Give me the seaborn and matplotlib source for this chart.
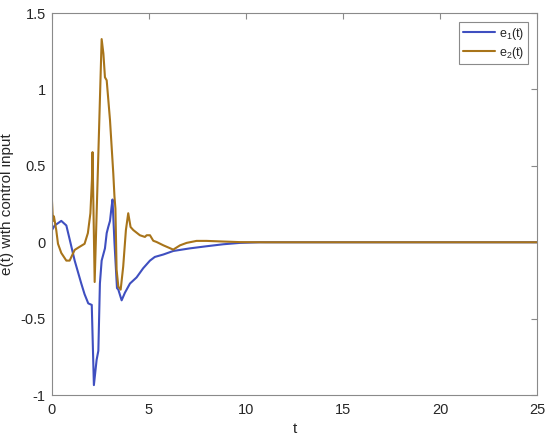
import matplotlib
matplotlib.use("Agg")
import matplotlib.pyplot as plt
import seaborn as sns
import pandas as pd

# e1(t) trace
t_e1 = [0.0, 0.14, 0.48, 0.74, 0.91, 1.17, 1.51, 1.68, 1.87, 2.05, 2.16, 2.30, 2.39,
        2.47, 2.56, 2.73, 2.82, 2.90, 2.99, 3.07, 3.12, 3.22, 3.35, 3.42, 3.59, 3.76,
        4.02, 4.36, 4.70, 5.05, 5.30, 5.74, 6.25, 7.10, 7.97, 8.83, 9.69, 10.7, 12.0, 25.0]
e1 = [0.08, 0.11, 0.14, 0.11, 0.02, -0.12, -0.27, -0.34, -0.40, -0.41, -0.935, -0.77, -0.71,
      -0.27, -0.12, -0.04, 0.06, 0.10, 0.14, 0.23, 0.28, 0.0, -0.30, -0.31, -0.38, -0.33,
      -0.27, -0.23, -0.17, -0.12, -0.096, -0.08, -0.057, -0.04, -0.026, -0.013, -0.004, 0.0, 0.0, 0.0]

# e2(t) trace
t_e2 = [0.0, 0.05, 0.10, 0.14, 0.22, 0.31, 0.48, 0.74, 0.91, 1.17, 1.42, 1.68, 1.85, 1.98,
        2.06, 2.09, 2.20, 2.56, 2.65, 2.73, 2.82, 2.99, 3.16, 3.22, 3.27, 3.33, 3.42, 3.54,
        3.67, 3.81, 3.93, 4.05, 4.19, 4.53, 4.79, 4.88, 5.05, 5.22, 5.39, 5.74, 6.25, 6.60,
        6.94, 7.45, 7.97, 8.80, 9.70, 11.0, 25.0]
e2 = [0.27, 0.14, 0.17, 0.14, 0.08, -0.01, -0.07, -0.12, -0.12, -0.05, -0.03, -0.01, 0.06, 0.19,
      0.41, 0.59, -0.26, 1.33, 1.235, 1.08, 1.06, 0.80, 0.45, 0.30, 0.22, -0.18, -0.29, -0.31,
      -0.16, 0.08, 0.19, 0.10, 0.08, 0.046, 0.035, 0.046, 0.046, 0.01, 0.002, -0.02, -0.048, -0.02,
      -0.004, 0.009, 0.009, 0.005, 0.001, 0.0, 0.0]

labels = ["e$_1$(t)", "e$_2$(t)"]
colors = ["#3f4fc0", "#a8741a"]

sns.set_style("white")
plt.rcParams["font.family"] = ["Liberation Sans", "DejaVu Sans"]
plt.rcParams["mathtext.fontset"] = "custom"
plt.rcParams["mathtext.rm"] = "Liberation Sans"
plt.rcParams["mathtext.it"] = "Liberation Sans:italic"

df1 = pd.DataFrame({"t": t_e1, "e": e1})
df2 = pd.DataFrame({"t": t_e2, "e": e2})

fig = plt.figure(figsize=(5.5, 4.37), dpi=100)
ax = fig.add_axes([0.0945, 0.096, 0.882, 0.874])

sns.lineplot(data=df1, x="t", y="e", ax=ax, color=colors[0], lw=1.5, label=labels[0])
sns.lineplot(data=df2, x="t", y="e", ax=ax, color=colors[1], lw=1.5, label=labels[1])

ax.set_xlim(0, 25)
ax.set_ylim(-1, 1.5)
ax.set_xticks([0, 5, 10, 15, 20, 25])
ax.set_xticklabels(["0", "5", "10", "15", "20", "25"])
ax.set_yticks([-1, -0.5, 0, 0.5, 1, 1.5])
ax.set_yticklabels(["-1", "-0.5", "0", "0.5", "1", "1.5"])
ax.set_xlabel("t", fontsize=11, labelpad=3)
ax.set_ylabel("e(t) with control input", fontsize=11)
ax.yaxis.set_label_coords(-0.078, 0.5)

for s in ax.spines.values():
    s.set_color("#8a8a8a")
    s.set_linewidth(0.8)
ax.tick_params(direction="in", top=True, right=True, length=4, width=0.8,
               color="#8a8a8a", labelsize=10.5, labelcolor="#262626")
ax.tick_params(axis="x", pad=6)
ax.tick_params(axis="y", pad=4.5)

leg = ax.legend(loc="upper right", fontsize=9, handlelength=2.6, fancybox=False,
                borderaxespad=0.7, framealpha=1, borderpad=0.3, labelspacing=0.25,
                handletextpad=0.3)
leg.get_frame().set_edgecolor("#8a8a8a")
leg.get_frame().set_linewidth(0.8)

fig.savefig("out.png", dpi=100)
